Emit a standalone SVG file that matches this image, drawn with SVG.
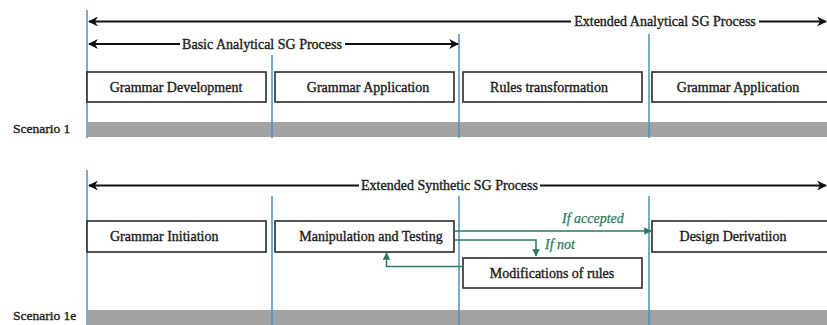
<svg xmlns="http://www.w3.org/2000/svg" width="827" height="325" viewBox="0 0 827 325">
  <style>
    text { font-family: "Liberation Serif", "Times New Roman", serif; fill: #1a1a1a; stroke: #1a1a1a; stroke-width: 0.35; }
    .lbl { font-size: 14px; }
    .box { fill: #ffffff; stroke: #2a2a2a; stroke-width: 1.6; }
    .vline { stroke: #4a8fc0; stroke-width: 1.5; fill: none; }
    .bar { fill: #a3a3a3; }
    .blk { stroke: #111111; stroke-width: 2.2; fill: none; }
    .grn { stroke: #2b7a58; stroke-width: 1.5; fill: none; }
    .gtxt { font-size: 14px; font-style: italic; fill: #2b7a58; stroke: #2b7a58; stroke-width: 0.25; }
  </style>
  <defs>
    <marker id="ablk" viewBox="0 0 10 10" refX="9" refY="5" markerWidth="5" markerHeight="4.5" orient="auto-start-reverse" markerUnits="strokeWidth">
      <path d="M0,0 L10,5 L0,10 L3,5 Z" fill="#111111"/>
    </marker>
    <marker id="agrn" viewBox="0 0 10 10" refX="9" refY="5" markerWidth="5" markerHeight="5" orient="auto" markerUnits="strokeWidth">
      <path d="M0,0 L10,5 L0,10 Z" fill="#2b7a58"/>
    </marker>
  </defs>

  <!-- Scenario 1 -->
  <g id="scenario1-bar">
    <rect class="bar" x="88" y="122" width="739" height="15"/>
    <text class="lbl" x="13" y="133" style="font-size:13.5px">Scenario 1</text>
  </g>
  <g id="vlines1">
    <line class="vline" x1="87" y1="10" x2="87" y2="138"/>
    <line class="vline" x1="272" y1="55" x2="272" y2="138"/>
    <line class="vline" x1="459" y1="34" x2="459" y2="138"/>
    <line class="vline" x1="649" y1="34" x2="649" y2="138"/>
  </g>
  <g id="grammar-development">
    <rect class="box" x="87" y="72" width="179" height="30"/>
    <text class="lbl" x="176" y="91.5" text-anchor="middle">Grammar Development</text>
  </g>
  <g id="grammar-application-1">
    <rect class="box" x="275" y="72" width="179" height="30"/>
    <text class="lbl" x="368" y="91.5" text-anchor="middle">Grammar Application</text>
  </g>
  <g id="rules-transformation">
    <rect class="box" x="463" y="72" width="179" height="30"/>
    <text class="lbl" x="549" y="91.5" text-anchor="middle">Rules transformation</text>
  </g>
  <g id="grammar-application-2">
    <rect class="box" x="652" y="72" width="176" height="30"/>
    <text class="lbl" x="738" y="91.5" text-anchor="middle">Grammar Application</text>
  </g>

  <!-- Scenario 1e -->
  <g id="scenario1e-bar">
    <rect class="bar" x="88" y="310" width="739" height="15"/>
    <text class="lbl" x="13" y="320" style="font-size:13.5px">Scenario 1e</text>
  </g>
  <g id="vlines2">
    <line class="vline" x1="87" y1="170" x2="87" y2="325"/>
    <line class="vline" x1="272" y1="196" x2="272" y2="325"/>
    <line class="vline" x1="459" y1="196" x2="459" y2="325"/>
    <line class="vline" x1="649" y1="196" x2="649" y2="325"/>
  </g>
  <g id="grammar-initiation">
    <rect class="box" x="87" y="221" width="179" height="31"/>
    <text class="lbl" x="110" y="241">Grammar Initiation</text>
  </g>
  <g id="manipulation-testing">
    <rect class="box" x="275" y="221" width="179" height="31"/>
    <text class="lbl" x="371" y="241" text-anchor="middle">Manipulation and Testing</text>
  </g>
  <g id="modifications-of-rules">
    <rect class="box" x="463" y="258" width="179" height="30"/>
    <text class="lbl" x="552" y="278" text-anchor="middle">Modifications of rules</text>
  </g>
  <g id="design-derivation">
    <rect class="box" x="652" y="221" width="176" height="31"/>
    <text class="lbl" x="733" y="241" text-anchor="middle">Design Derivatiion</text>
  </g>

  <!-- Connectors -->
  <g id="connectors">
    <!-- Extended Analytical SG Process -->
    <line class="blk" x1="89" y1="21.5" x2="571" y2="21.5" marker-start="url(#ablk)"/>
    <line class="blk" x1="759" y1="21.5" x2="826" y2="21.5" marker-end="url(#ablk)"/>
    <text class="lbl" x="665" y="26" text-anchor="middle">Extended Analytical SG Process</text>
    <!-- Basic Analytical SG Process -->
    <line class="blk" x1="89" y1="44" x2="180" y2="44" marker-start="url(#ablk)"/>
    <line class="blk" x1="345" y1="44" x2="458" y2="44" marker-end="url(#ablk)"/>
    <text class="lbl" x="262" y="48.5" text-anchor="middle">Basic Analytical SG Process</text>
    <!-- Extended Synthetic SG Process -->
    <line class="blk" x1="89" y1="185.5" x2="359" y2="185.5" marker-start="url(#ablk)"/>
    <line class="blk" x1="540" y1="185.5" x2="826" y2="185.5" marker-end="url(#ablk)"/>
    <text class="lbl" x="449.5" y="190" text-anchor="middle">Extended Synthetic SG Process</text>

    <!-- green flow -->
    <line class="grn" x1="454" y1="231" x2="651" y2="231" marker-end="url(#agrn)"/>
    <text class="gtxt" x="562" y="222.5">If accepted</text>
    <polyline class="grn" points="454,240 536,240 536,256" marker-end="url(#agrn)"/>
    <text class="gtxt" x="545" y="249">If not</text>
    <polyline class="grn" points="463,266.5 386.5,266.5 386.5,253" marker-end="url(#agrn)"/>
  </g>
</svg>
